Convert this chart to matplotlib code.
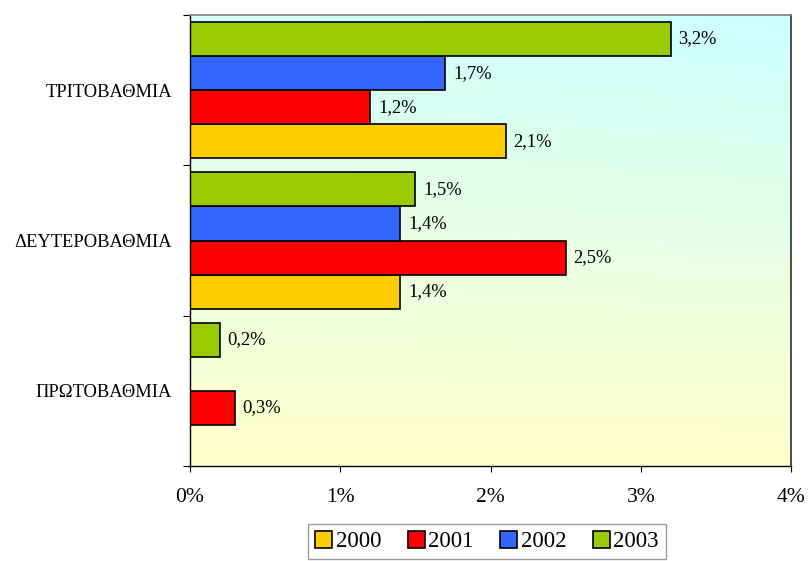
import matplotlib
matplotlib.use("Agg")
import matplotlib.pyplot as plt
import numpy as np
from matplotlib.patches import Patch

categories = ["ΠΡΩΤΟΒΑΘΜΙΑ", "ΔΕΥΤΕΡΟΒΑΘΜΙΑ", "ΤΡΙΤΟΒΑΘΜΙΑ"]
years = ["2000", "2001", "2002", "2003"]
values = {
    "2000": [0.0, 1.4, 2.1],
    "2001": [0.3, 2.5, 1.2],
    "2002": [0.0, 1.4, 1.7],
    "2003": [0.2, 1.5, 3.2],
}
colors = {"2000": "#FFCC00", "2001": "#FF0000", "2002": "#3366FF", "2003": "#99CC00"}
xticks = [0, 1, 2, 3, 4]

plt.rcParams['font.family'] = ['Liberation Serif', 'DejaVu Serif']

fig = plt.figure(figsize=(8.1, 5.61), dpi=100)
ax = fig.add_axes([190/810, 1-466/561, 601/810, 451/561])

# gradient background (cyan at top to light yellow at bottom)
n = 300
xx, yy = np.meshgrid(np.linspace(0, 1, n), np.linspace(1, 0, n))
t = np.clip(0.85 * yy + 0.15 * xx * yy, 0, 1)[..., None]
yellow = np.array([1.0, 1.0, 0.8])
cyan = np.array([0.8, 1.0, 1.0])
img = yellow * (1 - t) + cyan * t
ax.imshow(img, extent=[0, 1, 0, 1], transform=ax.transAxes, aspect='auto', zorder=0)

h = 0.227
y = np.arange(len(categories))
for i, yr in enumerate(years):
    vals = values[yr]
    pos = y + (i - 1.5) * h
    for p, v in zip(pos, vals):
        if v > 0:
            ax.barh(p, v, height=h, color=colors[yr], edgecolor='black', linewidth=1.2, zorder=2)
            ax.annotate(f"{v:.1f}".replace('.', ',') + '%', xy=(v, p), xytext=(5.5, 0),
                        textcoords='offset points', va='center', ha='left', fontsize=13.3, zorder=3)

ax.set_xlim(0, 4)
ax.set_ylim(-0.5, 2.5)
ax.set_xticks(xticks)
ax.set_xticklabels([f"{v}%" for v in xticks], fontsize=15.5)
ax.set_yticks(y)
ax.set_yticklabels(categories, fontsize=13.3)
ax.set_yticks([-0.5, 0.5, 1.5, 2.5], minor=True)
ax.tick_params(axis='y', which='major', length=0, pad=13)
ax.tick_params(axis='y', which='minor', length=5, width=0.8, direction='out')
ax.tick_params(axis='x', which='major', length=4.5, width=0.8, direction='out', pad=11)

ax.spines['top'].set_color('#808080')
ax.spines['top'].set_linewidth(1.2)
ax.spines['right'].set_color('#303030')
ax.spines['right'].set_linewidth(1.2)
for s in ['left', 'bottom']:
    ax.spines[s].set_color('black')
    ax.spines[s].set_linewidth(1.0)

handles = [Patch(facecolor=colors[yr], edgecolor='black', linewidth=1.2, label=yr) for yr in years]
leg = fig.legend(handles=handles, loc='upper center', bbox_to_anchor=(487/810, 1-524/561),
                 ncol=4, frameon=True, fancybox=False, edgecolor='#808080', fontsize=16.5,
                 handlelength=0.75, handleheight=0.75, handletextpad=0.15, columnspacing=1.15,
                 borderpad=0.3, borderaxespad=0)
leg.get_frame().set_linewidth(1.0)

fig.savefig("out.png", dpi=100)
